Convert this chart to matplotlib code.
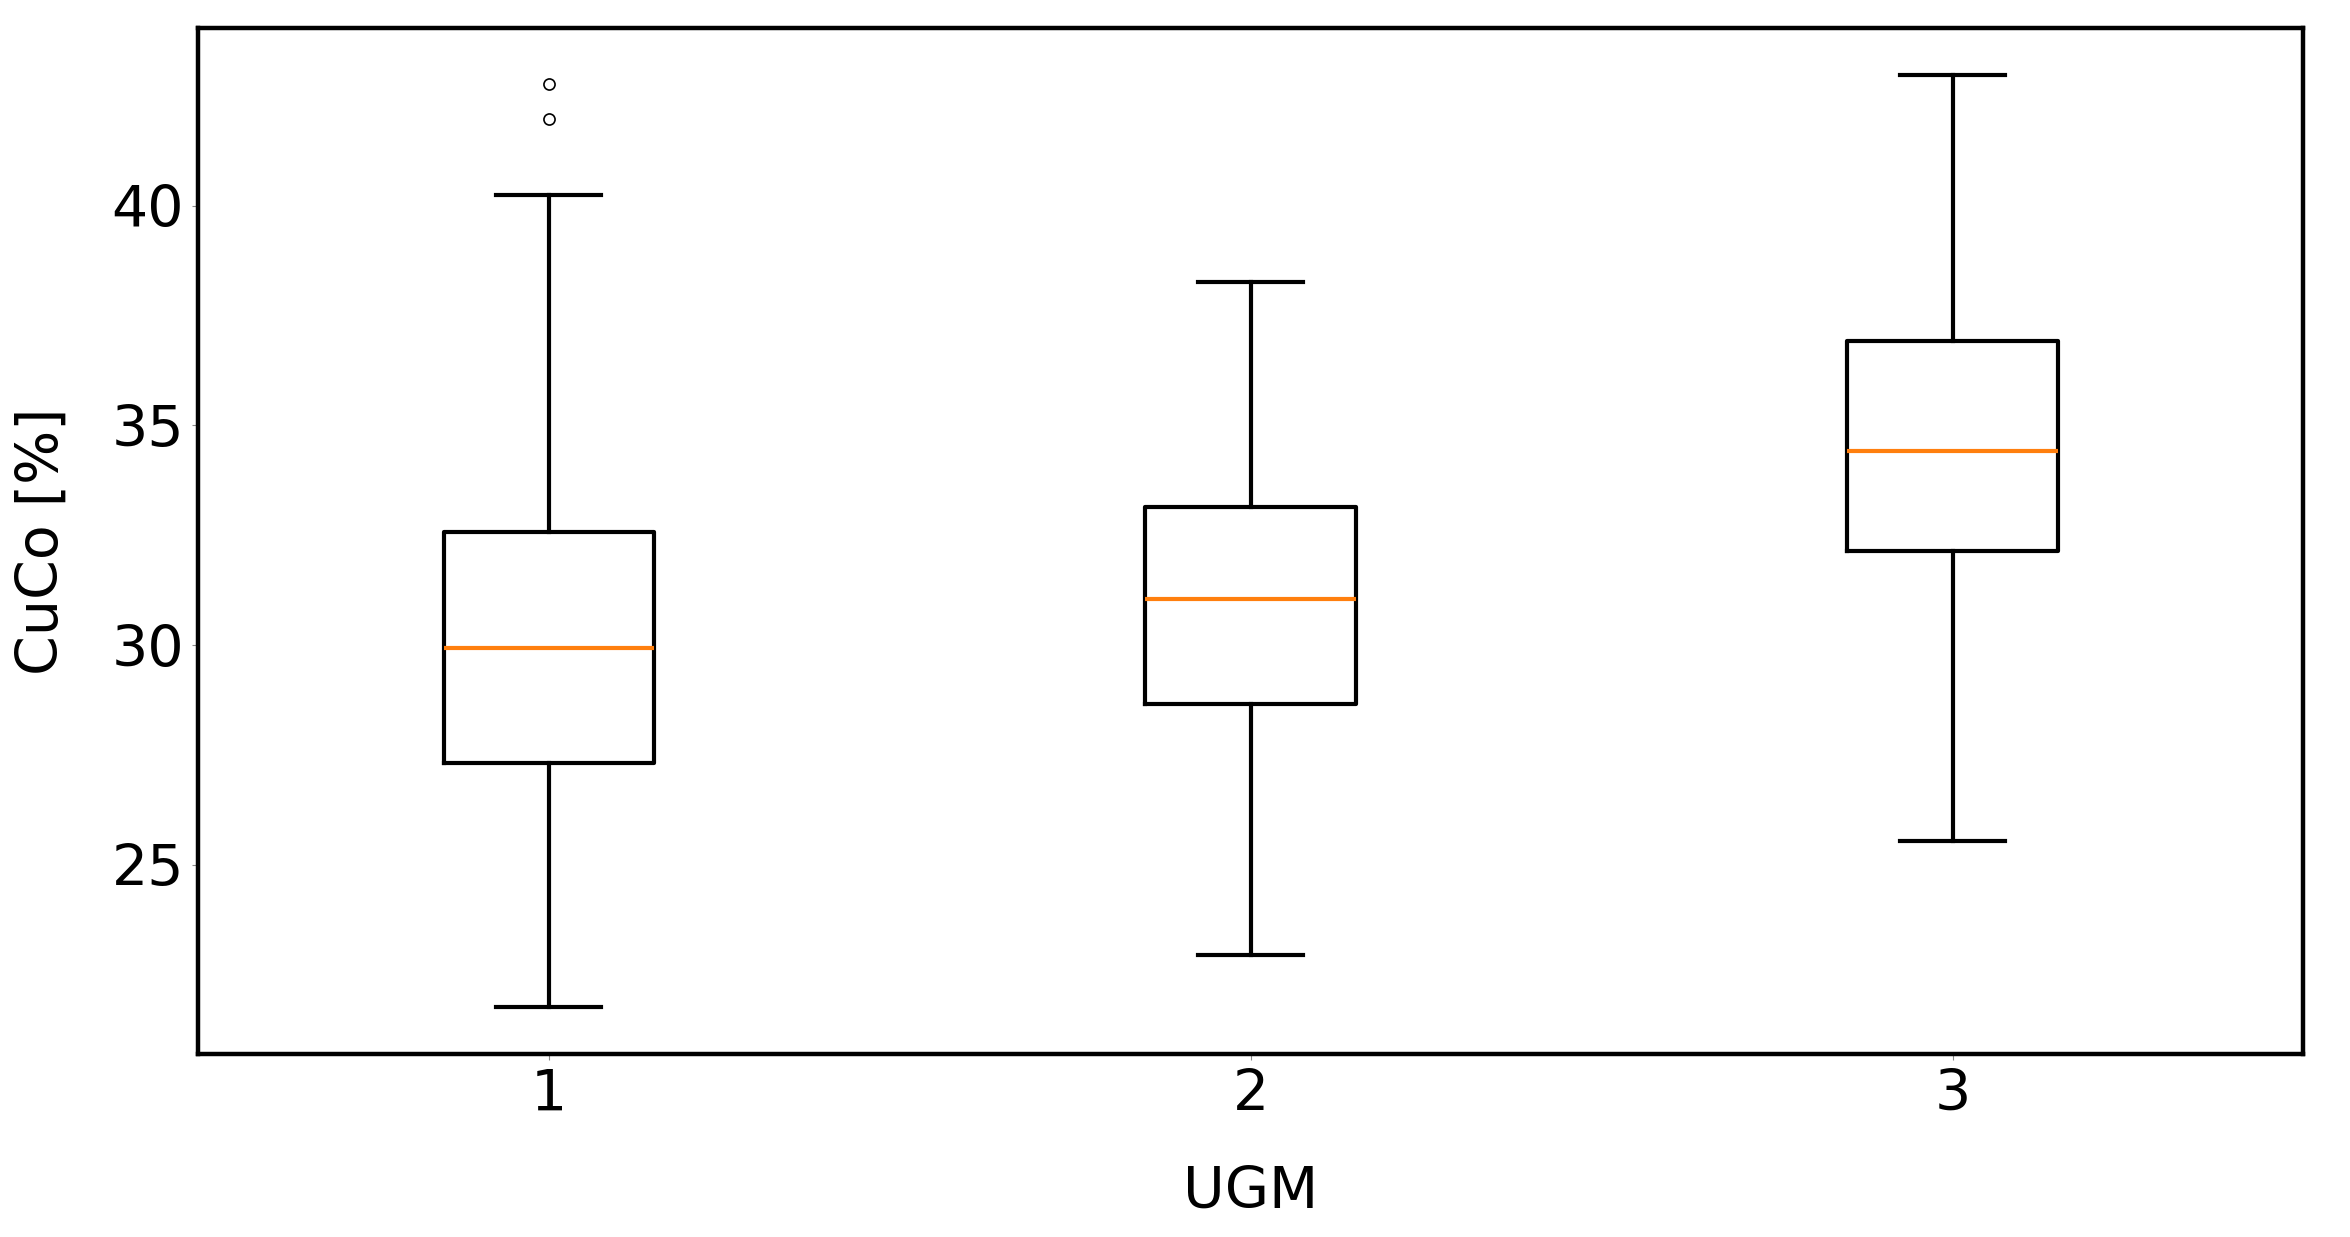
import matplotlib
matplotlib.use("Agg")
import matplotlib.pyplot as plt

# Datos (estadisticos de cada caja)
grupos = ["1", "2", "3"]
bigote_inf = [21.76, 22.95, 25.55]
q1 = [27.31, 28.67, 32.14]
mediana = [29.93, 31.06, 34.42]
q3 = [32.57, 33.15, 36.93]
bigote_sup = [40.24, 38.26, 42.97]
atipicos = [[41.98, 42.76], [], []]

stats = []
for i in range(len(grupos)):
    stats.append({
        "label": grupos[i],
        "whislo": bigote_inf[i],
        "q1": q1[i],
        "med": mediana[i],
        "q3": q3[i],
        "whishi": bigote_sup[i],
        "fliers": atipicos[i],
    })

plt.rcParams['font.family'] = ['DejaVu Sans']

fig = plt.figure(figsize=(23.5, 12.37), dpi=100)
ax = fig.add_axes([0.0842, 0.148, 0.896, 0.829])

lw = 3.0
ax.bxp(stats,
       boxprops=dict(color="black", linewidth=lw),
       whiskerprops=dict(color="black", linewidth=lw),
       capprops=dict(color="black", linewidth=lw),
       medianprops=dict(color="#ff7f0e", linewidth=lw),
       flierprops=dict(marker="o", markersize=8, markerfacecolor="none",
                       markeredgecolor="black", markeredgewidth=1.2))

for s in ax.spines.values():
    s.set_linewidth(3.2)

ax.tick_params(axis="both", labelsize=41, length=4, width=0.8, color="#888888", pad=6)
ax.set_yticks([25, 30, 35, 40])
ax.set_xlabel("UGM", fontsize=41, labelpad=30)
ax.set_ylabel("CuCo [%]", fontsize=41, labelpad=30)

fig.savefig("out.png", dpi=100)
